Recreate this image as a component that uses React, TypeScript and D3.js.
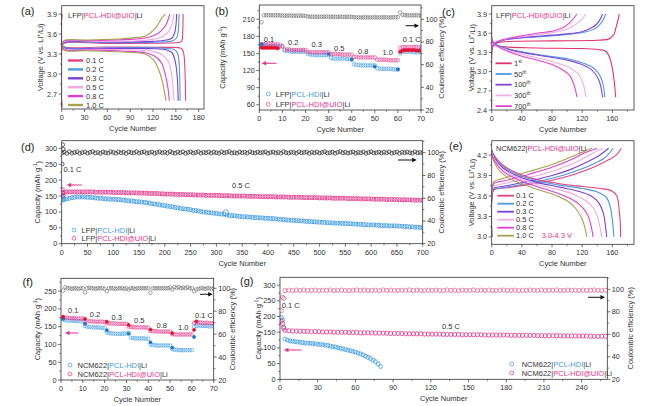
import React from 'react';
import * as d3 from 'd3';

type Pt = [number, number];
const FONT = "'Liberation Sans', Arial, Helvetica, sans-serif";
const PINK = '#e8338a';
const BLUE = '#3d9be6';
const RED = '#e4122e';
const DBLUE = '#1a78d0';
const GRAY = '#6a6a6a';
const RATE_COLORS = ['#e8407e', '#4a9ae2', '#7a3fd8', '#f3a8e8', '#e23fd0', '#a4a24c'];
const CYC_COLORS = ['#e2336e', '#4a9ae2', '#8442d8', '#f2ace6', '#e444cc'];

// ---------- (a) LFP rate profiles ----------
const aRates = ['0.1 C', '0.2 C', '0.3 C', '0.5 C', '0.8 C', '1.0 C'];
const aCharge: Pt[][] = [
  [[0, 2.5], [0.3, 3.4], [3, 3.46], [60, 3.46], [140, 3.465], [155, 3.475], [158, 3.5], [159, 3.6], [159.4, 3.75], [159.5, 3.9]],
  [[0, 2.5], [0.3, 3.4], [3, 3.465], [60, 3.47], [130, 3.48], [146, 3.5], [151, 3.54], [153, 3.63], [153.9, 3.78], [154.2, 3.9]],
  [[0, 2.5], [0.3, 3.4], [3, 3.47], [60, 3.48], [120, 3.49], [138, 3.51], [145, 3.54], [148.5, 3.62], [150.3, 3.75], [151, 3.9]],
  [[0, 2.5], [0.3, 3.4], [3, 3.48], [50, 3.49], [100, 3.5], [120, 3.52], [132, 3.56], [140, 3.63], [144.5, 3.73], [146.8, 3.84], [147.6, 3.9]],
  [[0, 2.5], [0.3, 3.4], [3, 3.49], [40, 3.5], [90, 3.52], [110, 3.54], [122, 3.58], [131, 3.65], [137, 3.74], [140.5, 3.84], [142, 3.9]],
  [[0, 2.5], [0.3, 3.4], [3, 3.5], [30, 3.51], [80, 3.53], [100, 3.55], [110, 3.57], [122.6, 3.68], [131, 3.83], [136, 3.9]],
];
const aDischarge: Pt[][] = [
  [[0, 3.9], [0.3, 3.45], [3, 3.41], [60, 3.405], [140, 3.4], [156, 3.39], [158.5, 3.37], [160.5, 3.3], [161.8, 3.1], [162.5, 2.85], [162.8, 2.6]],
  [[0, 3.9], [0.3, 3.45], [3, 3.4], [60, 3.395], [130, 3.39], [147, 3.37], [152, 3.32], [154.3, 3.15], [155.2, 2.9], [155.5, 2.6]],
  [[0, 3.9], [0.3, 3.45], [3, 3.39], [60, 3.385], [120, 3.38], [138, 3.36], [145, 3.32], [149, 3.2], [151.5, 3.0], [152.6, 2.8], [153, 2.6]],
  [[0, 3.9], [0.3, 3.45], [3, 3.38], [50, 3.37], [100, 3.36], [120, 3.34], [132, 3.29], [140, 3.19], [144, 3.02], [146.3, 2.8], [147.6, 2.6]],
  [[0, 3.9], [0.3, 3.45], [3, 3.37], [40, 3.36], [90, 3.34], [110, 3.32], [122, 3.27], [131, 3.17], [136, 3.0], [139.5, 2.8], [141.5, 2.6]],
  [[0, 3.9], [0.3, 3.45], [3, 3.36], [30, 3.35], [80, 3.33], [100, 3.32], [110, 3.3], [120, 3.22], [127, 3.08], [132, 2.9], [137, 2.6]],
];

// ---------- (b) LFP rate capability ----------
const bBlue = [166, 164, 164, 163, 163, 163, 163, 163, 162, 162, 155, 154, 154, 153, 153, 153, 153, 153, 153, 153,
  149, 148, 148, 147, 147, 147, 147, 147, 147, 147, 142, 141, 141, 141, 141, 141, 141, 140, 140, 140,
  131, 130, 130, 129, 129, 129, 129, 129, 129, 129, 124, 123, 123, 123, 123, 123, 123, 122, 122, 122,
  150, 153, 153, 153, 153, 153, 152, 152, 152, 152];
const bPink = [166, 166, 167, 167, 167, 166, 166, 166, 164, 163, 157, 157, 157, 156, 156, 156, 156, 156, 156, 156,
  153, 152, 152, 152, 152, 152, 152, 152, 152, 152, 149, 149, 149, 149, 149, 148, 148, 148, 148, 148,
  144, 144, 143, 143, 143, 143, 143, 143, 143, 143, 139, 139, 139, 139, 139, 138, 138, 138, 138, 138,
  160, 161, 161, 161, 161, 161, 161, 161, 161, 160];
const bCE = [97.4, 103.5, 103.6, 103.5, 103.6, 103.5, 103.4, 103.6, 103.5, 103.2, 103.3, 103.2, 103.3, 103.2, 103.1, 103.2, 103.3, 103.1, 103.2, 103.0,
  102.4, 102.3, 102.2, 102.3, 102.2, 102.3, 102.2, 102.3, 102.4, 102.2, 102.3, 102.2, 102.2, 102.1, 102.3, 102.2, 102.1, 102.2, 102.3, 102.1,
  101.8, 101.6, 101.7, 101.6, 101.7, 101.8, 101.6, 101.7, 101.6, 101.8, 101.7, 101.6, 101.7, 101.8, 101.7, 101.6, 101.7, 101.8, 101.7, 101.9,
  106.0, 104.0, 103.6, 103.5, 103.6, 103.4, 103.5, 103.6, 103.4, 103.5];
const bRedFilled: Pt[] = [[1, 160], [2, 160], [3, 160], [4, 160], [5, 160], [6, 160], [7, 160], [8, 159], [61, 153], [62, 155], [63, 156], [64, 156], [65, 156], [66, 156], [67, 156], [68, 155], [69, 155], [70, 155]];
const bBlueFilled: Pt[] = [[1, 166], [30, 149], [40, 139], [50, 127], [60, 122]];
const bRateLabels = ['0.1', '0.2', '0.3', '0.5', '0.8', '1.0', '0.1 C'];

// ---------- (c) LFP cycle profiles ----------
const cLabels = [['1', 'st'], ['50', 'th'], ['100', 'th'], ['300', 'th'], ['700', 'th']];
const cCharge: Pt[][] = [
  [[0, 2.45], [0.3, 3.3], [2, 3.4], [8, 3.45], [20, 3.47], [80, 3.48], [140, 3.49], [152, 3.5], [158, 3.53], [162, 3.58], [165.5, 3.72], [168, 3.83], [169, 3.9]],
  [[0.5, 3.36], [3, 3.43], [15, 3.49], [40, 3.53], [70, 3.55], [100, 3.58], [120, 3.61], [135, 3.66], [143, 3.73], [148, 3.81], [151, 3.9]],
  [[0.5, 3.36], [3, 3.43], [15, 3.49], [40, 3.53], [70, 3.56], [100, 3.59], [118, 3.62], [130, 3.67], [139, 3.74], [144, 3.82], [147, 3.9]],
  [[0.5, 3.37], [3, 3.44], [15, 3.5], [40, 3.55], [70, 3.59], [90, 3.63], [105, 3.69], [115, 3.77], [121, 3.84], [125, 3.9]],
  [[0.5, 3.37], [3, 3.44], [15, 3.5], [40, 3.56], [60, 3.6], [80, 3.63], [95, 3.69], [104, 3.77], [110, 3.85], [113, 3.9]],
];
const cDischarge: Pt[][] = [
  [[0, 3.82], [0.5, 3.5], [3, 3.43], [15, 3.39], [60, 3.37], [120, 3.36], [145, 3.34], [152, 3.31], [157, 3.2], [160, 3.05], [162.5, 2.85], [164.4, 2.6]],
  [[0.5, 3.5], [3, 3.44], [15, 3.38], [40, 3.31], [70, 3.25], [100, 3.2], [120, 3.14], [132, 3.08], [140, 3.0], [145, 2.9], [148, 2.78], [150, 2.6]],
  [[0.5, 3.5], [3, 3.44], [15, 3.37], [40, 3.3], [70, 3.24], [100, 3.18], [118, 3.12], [130, 3.05], [137, 2.97], [142, 2.87], [145, 2.75], [147, 2.6]],
  [[0.5, 3.49], [3, 3.43], [15, 3.36], [40, 3.27], [70, 3.19], [90, 3.12], [105, 3.05], [115, 2.96], [120, 2.85], [123, 2.74], [125, 2.6]],
  [[0.5, 3.49], [3, 3.43], [15, 3.35], [40, 3.24], [60, 3.18], [80, 3.11], [95, 3.02], [104, 2.93], [108, 2.83], [111, 2.72], [113, 2.6]],
];

// ---------- (d) LFP long cycling (every 5 cycles) ----------
const dBlue = [137, 139, 141, 143, 145, 146, 147, 147, 147, 147, 146, 146, 145, 144, 143, 143, 142, 141, 141, 140,
  140, 139, 139, 138, 137, 136, 135, 134, 133, 132, 132, 131, 130, 129, 128, 126, 125, 124, 122, 121,
  120, 118, 117, 116, 114, 113, 111, 110, 109, 108, 107, 105, 104, 103, 101, 100, 99, 98, 97, 96,
  95, 94, 93, 93, 90, 89, 88, 88, 87, 86, 85, 85, 84, 84, 83, 82, 82, 81, 81, 80,
  80, 79, 79, 78, 77, 76, 76, 75, 74, 74, 73, 73, 72, 72, 71, 70, 70, 69, 69, 68,
  68, 67, 67, 66, 66, 65, 65, 65, 64, 64, 64, 63, 63, 62, 62, 61, 61, 60, 60, 59,
  59, 59, 58, 58, 57, 57, 57, 56, 56, 56, 56, 55, 55, 54, 54, 53, 53, 52, 52, 51, 51];
const dPink = [160, 162, 163, 163, 163, 163, 163, 163, 163, 163, 163, 163, 163, 162, 162, 162, 162, 162, 162, 162,
  161, 161, 161, 161, 161, 160, 160, 160, 160, 160, 159, 159, 159, 159, 158, 158, 158, 158, 157, 157,
  156, 156, 156, 156, 155, 155, 155, 155, 154, 154, 154, 154, 153, 153, 153, 153, 152, 152, 152, 152,
  152, 152, 151, 151, 151, 151, 150, 150, 150, 150, 150, 150, 149, 149, 149, 149, 149, 148, 148, 148,
  148, 148, 148, 147, 147, 147, 147, 147, 146, 146, 146, 146, 146, 146, 145, 145, 145, 145, 145, 145,
  144, 144, 144, 144, 144, 143, 143, 143, 143, 143, 143, 142, 142, 142, 142, 142, 141, 141, 141, 141,
  141, 140, 140, 140, 140, 140, 139, 139, 139, 139, 139, 138, 138, 138, 138, 138, 137, 137, 137, 137, 136];
const dCE = [99.8, 100.6, 99.3, 100.9, 99.6, 100.2, 100.8, 99.4, 100.1, 100.7, 99.5, 100.3, 100.9, 99.7, 100.2, 99.4, 100.6, 100.0, 99.6, 100.8,
  100.2, 99.5, 100.7, 99.9, 100.4, 99.3, 100.6, 100.1, 99.7, 100.9, 99.6, 100.3, 100.8, 99.5, 100.0, 100.6, 99.4, 100.2, 100.7, 99.8,
  100.4, 99.6, 100.9, 100.0, 99.5, 100.5, 99.8, 100.7, 99.4, 100.2, 100.6, 99.7, 100.1, 100.8, 99.5, 100.3, 99.9, 100.6, 99.6, 100.4,
  100.0, 99.4, 100.7, 99.8, 100.3, 100.9, 99.6, 100.1, 99.5, 100.6, 99.9, 100.4, 99.5, 100.8, 100.0, 99.6, 100.5, 99.8, 100.2, 100.7,
  99.4, 100.1, 100.6, 99.7, 100.3, 99.5, 100.8, 100.0, 99.6, 100.4, 100.1, 99.5, 100.7, 99.9, 100.2, 100.6, 99.4, 100.3, 99.8, 100.5,
  99.6, 100.2, 100.8, 99.7, 100.0, 100.5, 99.5, 100.3, 100.9, 99.8, 100.4, 99.6, 100.1, 100.7, 99.5, 100.3, 99.9, 100.6, 99.4, 100.2,
  100.8, 99.7, 100.0, 100.5, 99.6, 100.4, 99.8, 100.7, 99.5, 100.1, 100.6, 99.4, 100.3, 99.9, 100.5, 100.0, 99.6, 100.7, 99.8, 100.2, 100.0];
const dInitPink: Pt[] = [[1, 170], [2, 160], [3, 152]];
const dInitBlue: Pt[] = [[1, 150], [2, 146], [3, 140]];
const dInitCE: Pt[] = [[1, 90], [2, 107], [3, 103]];
const dBlueOutlier: Pt[] = [[318, 97]];

// ---------- (e) NCM622 rate profiles ----------
const eCharge: Pt[][] = [
  [[0, 3.0], [0.5, 3.6], [3, 3.69], [20, 3.72], [50, 3.77], [80, 3.83], [110, 3.92], [135, 4.02], [155, 4.13], [165, 4.2], [172, 4.3]],
  [[0, 3.0], [0.5, 3.6], [3, 3.69], [20, 3.73], [50, 3.79], [80, 3.86], [110, 3.96], [135, 4.07], [150, 4.16], [161, 4.3]],
  [[0, 3.0], [0.5, 3.62], [3, 3.71], [20, 3.75], [50, 3.82], [80, 3.9], [105, 3.99], [125, 4.09], [142, 4.19], [155, 4.3]],
  [[0, 3.0], [0.5, 3.64], [3, 3.74], [20, 3.79], [50, 3.87], [80, 3.96], [105, 4.06], [125, 4.17], [138, 4.25], [147, 4.3]],
  [[0, 3.0], [0.5, 3.67], [3, 3.78], [20, 3.83], [50, 3.92], [80, 4.02], [105, 4.13], [125, 4.24], [140, 4.3]],
  [[0, 3.0], [0.5, 3.7], [3, 3.81], [20, 3.87], [50, 3.96], [80, 4.06], [105, 4.17], [122, 4.25], [133, 4.3]],
];
const eDischarge: Pt[][] = [
  [[0, 4.28], [3, 4.2], [15, 4.05], [35, 3.93], [60, 3.84], [90, 3.78], [120, 3.74], [145, 3.71], [160, 3.67], [166, 3.6], [169, 3.4], [170.5, 3.2], [171, 3.0]],
  [[0, 4.27], [3, 4.18], [15, 4.03], [35, 3.91], [60, 3.82], [90, 3.76], [120, 3.71], [140, 3.66], [152, 3.58], [157, 3.45], [160, 3.25], [162, 3.0]],
  [[0, 4.26], [3, 4.17], [15, 4.01], [35, 3.89], [60, 3.8], [90, 3.73], [115, 3.67], [132, 3.6], [142, 3.5], [148, 3.35], [151, 3.15], [152.5, 3.0]],
  [[0, 4.25], [3, 4.15], [15, 3.99], [35, 3.87], [60, 3.77], [90, 3.69], [110, 3.62], [125, 3.53], [135, 3.42], [141, 3.27], [144, 3.12], [146, 3.0]],
  [[0, 4.24], [3, 4.13], [15, 3.96], [35, 3.84], [60, 3.74], [85, 3.65], [105, 3.56], [118, 3.46], [127, 3.33], [132, 3.15], [134.5, 3.0]],
  [[0, 4.22], [3, 4.1], [15, 3.92], [35, 3.8], [60, 3.7], [85, 3.61], [100, 3.53], [112, 3.41], [120, 3.26], [124, 3.12], [126, 3.0]],
];

// ---------- (f) NCM622 rate capability ----------
const fBlue = [170, 168, 168, 167, 167, 166, 166, 166, 165, 165, 152, 150, 149, 149, 148, 148, 148, 147, 147, 147,
  134, 132, 131, 131, 130, 130, 130, 130, 130, 131, 133, 119, 118, 117, 117, 117, 117, 117, 116, 116,
  100, 98, 98, 97, 97, 97, 97, 97, 97, 97, 87, 85, 85, 84, 84, 84, 84, 84, 84, 84,
  150, 152, 153, 153, 152, 152, 152, 151, 151, 150];
const fPink = [176, 175, 175, 174, 174, 174, 173, 173, 173, 173, 166, 165, 165, 165, 164, 164, 164, 164, 164, 163,
  160, 159, 159, 159, 159, 158, 158, 158, 158, 158, 150, 149, 149, 148, 148, 148, 148, 148, 148, 147,
  138, 137, 137, 137, 136, 136, 136, 136, 136, 136, 129, 128, 128, 128, 128, 128, 128, 128, 128, 128,
  160, 162, 162, 162, 161, 161, 161, 160, 160, 160];
const fCE = [98, 101, 100, 100, 99.5, 100, 100, 99.5, 100, 100, 96.5, 100, 100.5, 100, 100, 99.5, 100, 100, 100, 99.5,
  97.5, 100, 100, 100, 99.5, 100, 100, 100, 99.5, 100, 99, 100, 100, 99.5, 100, 100, 100, 100, 100, 100,
  96, 100, 100, 100, 100, 100, 100, 100, 100, 100.5, 99, 101, 100.5, 101, 100, 100.5, 100, 101, 100, 100,
  97.5, 99, 99.5, 100, 100, 99.5, 100, 100, 99.5, 100];
const fRedFilled: Pt[] = [[1, 178], [11, 172], [21, 164], [31, 155], [41, 142], [51, 132], [61, 141], [62, 165]];
const fBlueFilled: Pt[] = [[1, 172], [11, 158], [21, 140], [31, 130], [41, 106], [51, 91], [61, 121]];

// ---------- (g) NCM622 long cycling ----------
const gBlue = [128, 125, 122, 121, 120, 119, 118, 117, 116, 115, 115, 114, 113, 112, 111, 110, 109, 108, 106, 104,
  103, 101, 99, 97, 95, 93, 91, 89, 87, 84, 81, 78, 74, 70, 66, 61, 56, 49, 41]; // cycles 4..80 step 2
const gPink = [156, 155, 154, 154, 153, 153, 153, 152, 152, 152, 151, 151, 151, 150, 150, 150, 150, 149, 149, 149,
  148, 148, 148, 148, 147, 147, 147, 147, 146, 146, 146, 146, 145, 145, 145, 145, 145, 144, 144, 144,
  144, 144, 143, 143, 143, 143, 143, 142, 142, 142, 142, 142, 142, 141, 141, 141, 141, 141, 141, 141,
  140, 140, 140, 140, 140, 140, 140, 139, 139, 139, 139, 139, 139, 139, 138, 138, 138, 138, 138, 138,
  138, 137, 137, 137, 137, 137]; // cycles 4..259 step 3
const gCE = [98.9, 99.2, 98.8, 99.3, 99.0, 99.4, 98.9, 99.1, 99.3, 98.8, 99.2, 99.0, 99.4, 98.9, 99.1, 99.3, 99.0, 98.8, 99.2, 99.4,
  99.0, 99.3, 98.9, 99.1, 99.2, 98.8, 99.4, 99.0, 99.3, 98.9, 99.1, 99.2, 99.0, 99.4, 98.9, 99.3, 99.1, 98.8, 99.2, 99.0,
  99.3, 98.9, 99.1, 99.4, 99.0, 99.2, 98.8, 99.3, 99.1, 99.0, 99.4, 98.9, 99.2, 99.0, 99.3, 99.1, 98.9, 99.2, 99.4, 99.0,
  99.1, 99.3, 98.8, 99.2, 99.0, 99.4, 99.1, 98.9, 99.3, 99.0, 99.2, 99.1, 99.4, 98.9, 99.0, 99.3, 99.1, 99.2, 98.9, 99.3,
  99.0, 99.2, 99.4, 99.1, 98.9, 99.2];
const gInitBlue: Pt[] = [[1, 197], [2, 189], [3, 162]];
const gInitPink: Pt[] = [[1, 185], [2, 178], [3, 165]];
const gInitCE: Pt[] = [[1, 81], [2, 93], [3, 92]];

// ---------- helpers ----------
type S = d3.ScaleLinear<number, number>;
interface Box { x0: number; x1: number; y0: number; y1: number; }

const fmtInt = (v: number) => String(v);
const fmt1 = d3.format('.1f');

function Axes(props: {
  b: Box; sx: S; sy: S; syr?: S; xt: number[]; xm: number[]; yt: number[]; ym: number[];
  yrt?: number[]; yrm?: number[]; yf?: (v: number) => string;
}) {
  const { b, sx, sy, syr, xt, xm, yt, ym, yrt, yrm } = props;
  const yf = props.yf || fmtInt;
  const st = '#333';
  const fs = 7.3;
  return (
    <g>
      <rect x={b.x0} y={b.y0} width={b.x1 - b.x0} height={b.y1 - b.y0} fill="none" stroke={st} strokeWidth={0.8} />
      {xt.map((v) => (
        <g key={'xt' + v}>
          <line x1={sx(v)} x2={sx(v)} y1={b.y1} y2={b.y1 + 3} stroke={st} strokeWidth={0.7} />
          <text x={sx(v)} y={b.y1 + 8.5} textAnchor="middle" dominantBaseline="central" fontSize={fs} fill="#333">{fmtInt(v)}</text>
        </g>
      ))}
      {xm.map((v) => (<line key={'xm' + v} x1={sx(v)} x2={sx(v)} y1={b.y1} y2={b.y1 + 1.8} stroke={st} strokeWidth={0.6} />))}
      {yt.map((v) => (
        <g key={'yt' + v}>
          <line x1={b.x0 - 3} x2={b.x0} y1={sy(v)} y2={sy(v)} stroke={st} strokeWidth={0.7} />
          <text x={b.x0 - 4.5} y={sy(v)} textAnchor="end" dominantBaseline="central" fontSize={fs} fill="#333">{yf(v)}</text>
        </g>
      ))}
      {ym.map((v) => (<line key={'ym' + v} x1={b.x0 - 1.8} x2={b.x0} y1={sy(v)} y2={sy(v)} stroke={st} strokeWidth={0.6} />))}
      {syr && yrt && yrt.map((v) => (
        <g key={'yr' + v}>
          <line x1={b.x1} x2={b.x1 + 3} y1={syr(v)} y2={syr(v)} stroke={st} strokeWidth={0.7} />
          <text x={b.x1 + 4.5} y={syr(v)} textAnchor="start" dominantBaseline="central" fontSize={fs} fill="#333">{v}</text>
        </g>
      ))}
      {syr && yrm && yrm.map((v) => (<line key={'yrm' + v} x1={b.x1} x2={b.x1 + 1.8} y1={syr(v)} y2={syr(v)} stroke={st} strokeWidth={0.6} />))}
    </g>
  );
}

function VTitle({ x, y, kind }: { x: number; y: number; kind: 'V' | 'C' | 'CE' }) {
  const t = `translate(${x},${y}) rotate(-90)`;
  if (kind === 'V')
    return (<text transform={t} textAnchor="middle" dominantBaseline="central" fontSize={7.5} fill="#333">Voltage (V vs. Li<tspan dy={-2.5} fontSize={5}>+</tspan><tspan dy={2.5}>/Li)</tspan></text>);
  if (kind === 'C')
    return (<text transform={t} textAnchor="middle" dominantBaseline="central" fontSize={7.5} fill="#333">Capacity (mAh g<tspan dy={-2.5} fontSize={5}>-1</tspan><tspan dy={2.5}>)</tspan></text>);
  return (<text transform={t} textAnchor="middle" dominantBaseline="central" fontSize={7.5} fill="#333">Coulombic efficiency (%)</text>);
}

function XTitle({ b }: { b: Box }) {
  return (<text x={(b.x0 + b.x1) / 2} y={b.y1 + 19.5} textAnchor="middle" dominantBaseline="central" fontSize={7.5} fill="#333">Cycle Number</text>);
}

function Letter({ x, y, t }: { x: number; y: number; t: string }) {
  return (<text x={x} y={y} dominantBaseline="central" fontSize={11} fill="#222">{t}</text>);
}

function Arrow({ x1, x2, y, color }: { x1: number; x2: number; y: number; color: string }) {
  const dir = x2 > x1 ? 1 : -1;
  return (
    <g>
      <line x1={x1} x2={x2 - dir * 3} y1={y} y2={y} stroke={color} strokeWidth={1} />
      <path d={`M${x2},${y} L${x2 - dir * 4.5},${y - 2.2} L${x2 - dir * 4.5},${y + 2.2} Z`} fill={color} />
    </g>
  );
}

function Dots({ pts, sx, sy, color, r, filled, sw }: { pts: Pt[]; sx: S; sy: S; color: string; r: number; filled?: boolean; sw?: number }) {
  return (
    <g>
      {pts.map((p, i) => (
        <circle key={i} cx={sx(p[0])} cy={sy(p[1])} r={r} fill={filled ? color : 'none'} stroke={color} strokeWidth={sw ?? 0.6} />
      ))}
    </g>
  );
}

function Curves({ sets, colors, sx, sy, w }: { sets: Pt[][]; colors: string[]; sx: S; sy: S; w?: number }) {
  const line = d3.line<Pt>().x((d) => sx(d[0])).y((d) => sy(d[1])).curve(d3.curveCatmullRom.alpha(0.5));
  return (
    <g>
      {sets.map((s, i) => (
        <path key={i} d={line(s) || ''} fill="none" stroke={colors[i]} strokeWidth={w ?? 1.1} />
      ))}
    </g>
  );
}

function CellName({ x, y, pre }: { x: number; y: number; pre: string }) {
  return (
    <text x={x} y={y} dominantBaseline="central" fontSize={7.5} fill="#333">
      {pre}|<tspan fill={PINK}>PCL-HDI@UIO</tspan>|Li
    </text>
  );
}

function Legend2({ x, y1, y2, pre, sx }: { x: number; y1: number; y2: number; pre: string; sx?: number }) {
  const tx = x + (sx ?? 7.5);
  return (
    <g>
      <circle cx={x} cy={y1} r={1.9} fill="none" stroke={BLUE} strokeWidth={0.7} />
      <text x={tx} y={y1} dominantBaseline="central" fontSize={7.5} fill="#333">{pre}|<tspan fill={BLUE}>PCL-HDI</tspan>|Li</text>
      <circle cx={x} cy={y2} r={1.9} fill="none" stroke={PINK} strokeWidth={0.7} />
      <text x={tx} y={y2} dominantBaseline="central" fontSize={7.5} fill="#333">{pre}|<tspan fill={PINK}>PCL-HDI@UIO</tspan>|Li</text>
    </g>
  );
}

const rangeIdx = (n: number, start: number, step: number) => d3.range(n).map((i) => start + i * step);
const zip = (xs: number[], ys: number[]): Pt[] => ys.map((v, i) => [xs[i], v]);

export default function App() {
  const A: Box = { x0: 61.7, x1: 204, y0: 5.7, y1: 109 };
  const B: Box = { x0: 259.3, x1: 421, y0: 5, y1: 110 };
  const C: Box = { x0: 491.7, x1: 634, y0: 5.7, y1: 110 };
  const D: Box = { x0: 61.7, x1: 422.7, y0: 140.7, y1: 243.7 };
  const E: Box = { x0: 491.7, x1: 634, y0: 140.7, y1: 244.3 };
  const F: Box = { x0: 61, x1: 213.7, y0: 278.3, y1: 380 };
  const G: Box = { x0: 280, x1: 607.3, y0: 277.3, y1: 379.3 };

  const xA = d3.scaleLinear().domain([0, 187]).range([A.x0, A.x1]);
  const yA = d3.scaleLinear().domain([2.475, 4.025]).range([A.y1, A.y0]);
  const xB = d3.scaleLinear().domain([0, 70]).range([B.x0, B.x1]);
  const yB = d3.scaleLinear().domain([50.7, 235]).range([B.y1, B.y0]);
  const yBr = d3.scaleLinear().domain([20, 112.6]).range([B.y1, B.y0]);
  const xC = d3.scaleLinear().domain([0, 188.7]).range([C.x0, C.x1]);
  const yC = d3.scaleLinear().domain([2.4, 4.03]).range([C.y1, C.y0]);
  const xD = d3.scaleLinear().domain([0, 700]).range([D.x0, D.x1]);
  const yD = d3.scaleLinear().domain([0, 324]).range([D.y1, D.y0]);
  const yDr = d3.scaleLinear().domain([20, 110.5]).range([D.y1, D.y0]);
  const xE = d3.scaleLinear().domain([0, 188.7]).range([E.x0, E.x1]);
  const yE = d3.scaleLinear().domain([2.893, 4.41]).range([E.y1, E.y0]);
  const xF = d3.scaleLinear().domain([0, 70]).range([F.x0, F.x1]);
  const yF = d3.scaleLinear().domain([0, 286]).range([F.y1, F.y0]);
  const yFr = d3.scaleLinear().domain([20, 108.7]).range([F.y1, F.y0]);
  const xG = d3.scaleLinear().domain([0, 260.4]).range([G.x0, G.x1]);
  const yG = d3.scaleLinear().domain([0, 325]).range([G.y1, G.y0]);
  const yGr = d3.scaleLinear().domain([20, 110.7]).range([G.y1, G.y0]);

  const cyc70 = rangeIdx(70, 1, 1);
  const dX = d3.range(141).map((i) => (i === 0 ? 1 : i * 5));
  const gBX = rangeIdx(gBlue.length, 4, 2);
  const gPX = rangeIdx(gPink.length, 4, 3);

  const clip = (id: string, b: Box) => (
    <clipPath id={id}><rect x={b.x0} y={b.y0} width={b.x1 - b.x0} height={b.y1 - b.y0} /></clipPath>
  );

  const bLabelPos: Pt[] = [[269, 39.3], [293.3, 42.7], [316.7, 44.3], [339.3, 48], [363.3, 51], [387.7, 52.7], [411.7, 39.3]];
  const fLabelPos: Pt[] = [[73.3, 310], [95, 314.3], [116.7, 317.3], [139.3, 320.7], [161.7, 325], [183.3, 327], [204, 315]];

  return (
    <svg width={653} height={406} style={{ position: 'absolute', left: 0, top: 0, background: '#fff' }} fontFamily={FONT}>
      <defs>
        {clip('cA', A)}{clip('cB', B)}{clip('cC', C)}{clip('cD', D)}{clip('cE', E)}{clip('cF', F)}{clip('cG', G)}
      </defs>
      <rect x={0} y={0} width={653} height={406} fill="#fff" />

      {/* (a) */}
      <Letter x={21} y={11} t="(a)" />
      <g clipPath="url(#cA)">
        <Curves sets={aCharge} colors={RATE_COLORS} sx={xA} sy={yA} />
        <Curves sets={aDischarge} colors={RATE_COLORS} sx={xA} sy={yA} />
      </g>
      <Axes b={A} sx={xA} sy={yA} xt={d3.range(0, 181, 30)} xm={d3.range(15, 181, 30)} yt={[2.7, 3.0, 3.3, 3.6, 3.9]} ym={[2.55, 2.85, 3.15, 3.45, 3.75]} yf={fmt1} />
      <CellName x={68} y={15} pre="LFP" />
      {aRates.map((r, i) => (
        <g key={r}>
          <line x1={68} x2={83} y1={60.5 + i * 8.9} y2={60.5 + i * 8.9} stroke={RATE_COLORS[i]} strokeWidth={2.4} />
          <text x={86} y={60.5 + i * 8.9} dominantBaseline="central" fontSize={7.5} fill="#333">{r}</text>
        </g>
      ))}
      <VTitle x={40} y={(A.y0 + A.y1) / 2} kind="V" />
      <XTitle b={A} />

      {/* (b) */}
      <Letter x={215} y={11} t="(b)" />
      <g clipPath="url(#cB)">
        <Dots pts={zip(cyc70, bCE)} sx={xB} sy={yBr} color={GRAY} r={1.8} />
        <Dots pts={zip(cyc70, bBlue)} sx={xB} sy={yB} color={BLUE} r={1.8} />
        <Dots pts={bRedFilled} sx={xB} sy={yB} color={RED} r={1.7} filled />
        <Dots pts={zip(cyc70, bPink)} sx={xB} sy={yB} color={PINK} r={1.8} />
        <Dots pts={bBlueFilled} sx={xB} sy={yB} color={DBLUE} r={1.6} filled />
      </g>
      <Axes b={B} sx={xB} sy={yB} syr={yBr} xt={d3.range(0, 71, 10)} xm={d3.range(5, 70, 10)} yt={d3.range(60, 211, 30)} ym={d3.range(75, 230, 30)} yrt={d3.range(20, 101, 20)} yrm={d3.range(30, 111, 20)} />
      {bRateLabels.map((t, i) => (
        <text key={t + i} x={bLabelPos[i][0]} y={bLabelPos[i][1]} textAnchor="middle" dominantBaseline="central" fontSize={7.5} fill="#333">{t}</text>
      ))}
      <Arrow x1={276.7} x2={261.7} y={63.3} color={PINK} />
      <Arrow x1={405.7} x2={419} y={25.7} color="#111" />
      <Legend2 x={268.3} y1={94} y2={104.3} pre="LFP" />
      <VTitle x={222.3} y={(B.y0 + B.y1) / 2} kind="C" />
      <VTitle x={441.7} y={(B.y0 + B.y1) / 2} kind="CE" />
      <XTitle b={B} />

      {/* (c) */}
      <Letter x={442} y={12} t="(c)" />
      <g clipPath="url(#cC)">
        <Curves sets={cCharge} colors={CYC_COLORS} sx={xC} sy={yC} />
        <Curves sets={cDischarge} colors={CYC_COLORS} sx={xC} sy={yC} />
      </g>
      <Axes b={C} sx={xC} sy={yC} xt={d3.range(0, 161, 40)} xm={d3.range(20, 181, 40)} yt={[2.4, 2.7, 3.0, 3.3, 3.6, 3.9]} ym={[2.55, 2.85, 3.15, 3.45, 3.75]} yf={fmt1} />
      <CellName x={496} y={15} pre="LFP" />
      {cLabels.map((l, i) => (
        <g key={l[0]}>
          <line x1={495.5} x2={511.7} y1={63.3 + i * 10.7} y2={63.3 + i * 10.7} stroke={CYC_COLORS[i]} strokeWidth={1.8} />
          <text x={514} y={63.3 + i * 10.7} dominantBaseline="central" fontSize={7.5} fill="#333">{l[0]}<tspan dy={-2.5} fontSize={4.8}>{l[1]}</tspan></text>
        </g>
      ))}
      <VTitle x={471.7} y={(C.y0 + C.y1) / 2} kind="V" />
      <XTitle b={C} />

      {/* (d) */}
      <Letter x={21} y={146.7} t="(d)" />
      <g clipPath="url(#cD)">
        <Dots pts={zip(dX, dBlue)} sx={xD} sy={yD} color={BLUE} r={2} sw={0.85} />
        <Dots pts={dInitBlue} sx={xD} sy={yD} color={BLUE} r={2} sw={0.85} />
        <Dots pts={dBlueOutlier} sx={xD} sy={yD} color={BLUE} r={3} sw={0.8} />
        <Dots pts={zip(dX, dPink)} sx={xD} sy={yD} color={PINK} r={2} sw={0.85} />
        <Dots pts={dInitPink} sx={xD} sy={yD} color={PINK} r={2} sw={0.85} />
        <Dots pts={zip(dX, dCE)} sx={xD} sy={yDr} color="#333" r={1.9} sw={0.75} />
        <Dots pts={dInitCE} sx={xD} sy={yDr} color="#333" r={1.9} sw={0.75} />
      </g>
      <Axes b={D} sx={xD} sy={yD} syr={yDr} xt={d3.range(0, 701, 50)} xm={d3.range(25, 700, 50)} yt={d3.range(0, 301, 50)} ym={d3.range(25, 301, 50)} yrt={d3.range(20, 101, 20)} yrm={d3.range(30, 111, 20)} />
      <text x={63.5} y={169.3} dominantBaseline="central" fontSize={7.5} fill="#333">0.1 C</text>
      <text x={241} y={185} textAnchor="middle" dominantBaseline="central" fontSize={7.5} fill="#333">0.5 C</text>
      <Arrow x1={81.7} x2={66.7} y={185} color={PINK} />
      <Arrow x1={398} x2={416.7} y={160} color="#111" />
      <Legend2 x={74} y1={230} y2={238.3} pre="LFP" />
      <VTitle x={37.7} y={(D.y0 + D.y1) / 2} kind="C" />
      <VTitle x={441.7} y={(D.y0 + D.y1) / 2} kind="CE" />
      <XTitle b={D} />

      {/* (e) */}
      <Letter x={449} y={146} t="(e)" />
      <g clipPath="url(#cE)">
        <Curves sets={eCharge} colors={RATE_COLORS} sx={xE} sy={yE} />
        <Curves sets={eDischarge} colors={RATE_COLORS} sx={xE} sy={yE} />
      </g>
      <Axes b={E} sx={xE} sy={yE} xt={d3.range(0, 161, 40)} xm={d3.range(20, 181, 40)} yt={[3.0, 3.3, 3.6, 3.9, 4.2]} ym={[3.15, 3.45, 3.75, 4.05, 4.35]} yf={fmt1} />
      <CellName x={496} y={148.3} pre="NCM622" />
      {aRates.map((r, i) => (
        <g key={'e' + r}>
          <line x1={497.3} x2={514} y1={195.7 + i * 8} y2={195.7 + i * 8} stroke={RATE_COLORS[i]} strokeWidth={1.8} />
          <text x={516} y={195.7 + i * 8} dominantBaseline="central" fontSize={7.5} fill="#333">{r}</text>
        </g>
      ))}
      <text x={541.7} y={235.7} dominantBaseline="central" fontSize={7.5} fill={PINK}>3.0-4.3 V</text>
      <VTitle x={471.7} y={(E.y0 + E.y1) / 2} kind="V" />
      <XTitle b={E} />

      {/* (f) */}
      <Letter x={22.5} y={281.7} t="(f)" />
      <g clipPath="url(#cF)">
        <Dots pts={zip(cyc70, fCE)} sx={xF} sy={yFr} color={GRAY} r={1.8} />
        <Dots pts={zip(cyc70, fBlue)} sx={xF} sy={yF} color={BLUE} r={1.8} />
        <Dots pts={zip(cyc70, fPink)} sx={xF} sy={yF} color={PINK} r={1.8} />
        <Dots pts={fBlueFilled} sx={xF} sy={yF} color={DBLUE} r={1.6} filled />
        <Dots pts={fRedFilled} sx={xF} sy={yF} color={RED} r={1.6} filled />
      </g>
      <Axes b={F} sx={xF} sy={yF} syr={yFr} xt={d3.range(0, 71, 10)} xm={d3.range(5, 70, 10)} yt={d3.range(0, 251, 50)} ym={d3.range(25, 286, 50)} yrt={d3.range(20, 101, 20)} yrm={d3.range(30, 101, 20)} />
      {bRateLabels.map((t, i) => (
        <text key={'f' + t + i} x={fLabelPos[i][0]} y={fLabelPos[i][1]} textAnchor="middle" dominantBaseline="central" fontSize={7.5} fill="#333">{t}</text>
      ))}
      <Arrow x1={78.3} x2={65} y={333} color={PINK} />
      <Arrow x1={200} x2={212.7} y={294.3} color="#111" />
      <Legend2 x={70} y1={365} y2={374} pre="NCM622" />
      <VTitle x={37.3} y={(F.y0 + F.y1) / 2} kind="C" />
      <VTitle x={232} y={(F.y0 + F.y1) / 2} kind="CE" />
      <XTitle b={F} />

      {/* (g) */}
      <Letter x={240} y={281} t="(g)" />
      <g clipPath="url(#cG)">
        <Dots pts={zip(gBX, gBlue)} sx={xG} sy={yG} color={BLUE} r={2} sw={0.8} />
        <Dots pts={gInitBlue} sx={xG} sy={yG} color={BLUE} r={2} sw={0.8} />
        <Dots pts={zip(gPX, gPink)} sx={xG} sy={yG} color={PINK} r={2.1} sw={0.8} />
        <Dots pts={gInitPink} sx={xG} sy={yG} color={PINK} r={2.1} sw={0.8} />
        <Dots pts={zip(gPX, gCE)} sx={xG} sy={yGr} color="#e8608f" r={2.1} sw={0.75} />
        <Dots pts={gInitCE} sx={xG} sy={yGr} color="#e8608f" r={2.1} sw={0.75} />
      </g>
      <Axes b={G} sx={xG} sy={yG} syr={yGr} xt={d3.range(0, 241, 30)} xm={d3.range(15, 256, 30)} yt={d3.range(0, 301, 50)} ym={d3.range(25, 301, 50)} yrt={d3.range(20, 101, 20)} yrm={d3.range(30, 111, 20)} />
      <text x={281.7} y={305.7} dominantBaseline="central" fontSize={7.5} fill="#333">0.1 C</text>
      <text x={451} y={326} textAnchor="middle" dominantBaseline="central" fontSize={7.5} fill="#333">0.5 C</text>
      <Arrow x1={301.7} x2={284} y={350} color={PINK} />
      <Arrow x1={588} x2={605} y={297.3} color="#111" />
      <Legend2 x={511.7} y1={364} y2={373} pre="NCM622" sx={10} />
      <VTitle x={258.3} y={(G.y0 + G.y1) / 2} kind="C" />
      <VTitle x={630} y={(G.y0 + G.y1) / 2} kind="CE" />
      <XTitle b={G} />
    </svg>
  );
}
